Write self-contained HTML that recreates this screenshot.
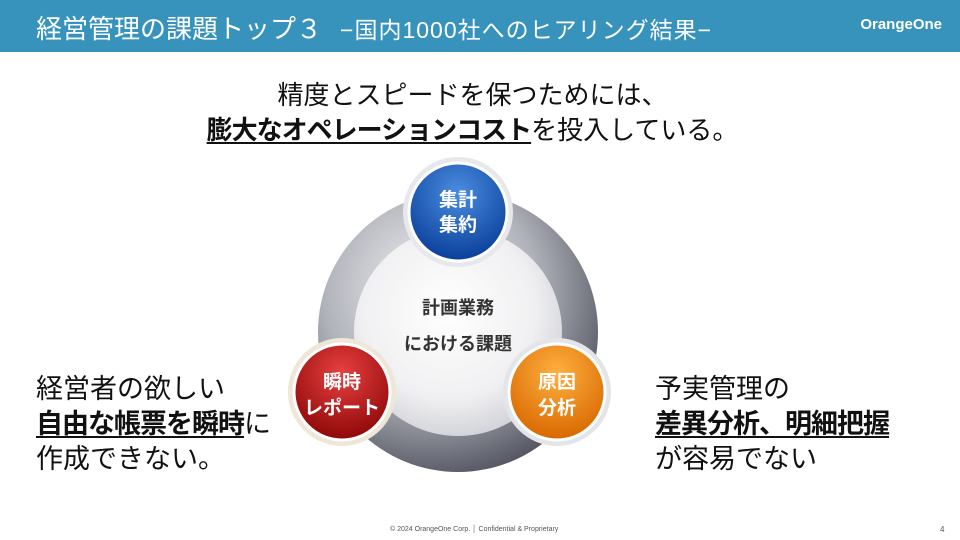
<!DOCTYPE html>
<html><head><meta charset="utf-8"><style>
body{margin:0;width:960px;height:540px;overflow:hidden;background:#fff;font-family:"Liberation Sans","Noto Sans CJK JP",sans-serif;position:relative}
.hd{position:absolute;left:0;top:0;width:960px;height:52px;background:#3793bb;color:#fff}
.t{position:absolute;left:36px;top:9px;font-size:26px;white-space:nowrap}
.t span{font-size:23px;margin-left:18px;letter-spacing:1px}
.logo{position:absolute;right:18px;top:16px;font-size:15px;font-weight:bold}
.txt{position:absolute;font-size:27px;line-height:35px;color:#111;white-space:nowrap}
u{font-weight:bold;text-decoration-thickness:2px;text-underline-offset:3px;letter-spacing:-1px}
.ft{position:absolute;top:526px;left:390px;font-size:7px;color:#555}
.pn{position:absolute;top:525px;left:940px;font-size:8px;color:#555}
</style></head><body>
<div class="hd"><div class="t">経営管理の課題トップ３<span>−国内1000社へのヒアリング結果−</span></div><div class="logo">OrangeOne</div></div>
<div class="txt" style="left:0;width:945px;text-align:center;top:78px;font-size:26px;line-height:35px">精度とスピードを保つためには、<br><u>膨大なオペレーションコスト</u>を投入している。</div>
<svg style="position:absolute;left:0;top:0" width="960" height="540">
<defs>
<radialGradient id="ring" cx="0.4" cy="0.35" r="0.7"><stop offset="0" stop-color="#f4f4f6"/><stop offset="0.55" stop-color="#b0b2ba"/><stop offset="1" stop-color="#4e515c"/></radialGradient>
<radialGradient id="inner" cx="0.45" cy="0.4" r="0.6"><stop offset="0" stop-color="#ffffff"/><stop offset="0.7" stop-color="#f0f0f2"/><stop offset="1" stop-color="#d4d5da"/></radialGradient>
<radialGradient id="blue" cx="0.5" cy="0.3" r="0.7"><stop offset="0" stop-color="#4a8de0"/><stop offset="1" stop-color="#0a3f9a"/></radialGradient>
<radialGradient id="red" cx="0.5" cy="0.3" r="0.7"><stop offset="0" stop-color="#e84040"/><stop offset="1" stop-color="#8e0808"/></radialGradient>
<radialGradient id="org" cx="0.5" cy="0.3" r="0.7"><stop offset="0" stop-color="#ffb040"/><stop offset="1" stop-color="#d86800"/></radialGradient>
</defs>
<circle cx="458" cy="332" r="140" fill="url(#ring)"/>
<circle cx="458" cy="332" r="104" fill="url(#inner)"/>
<g font-weight="bold" text-anchor="middle">
<text x="458" y="314" font-size="18" fill="#333">計画業務</text>
<text x="458" y="350" font-size="18" fill="#333">における課題</text>
<circle cx="458" cy="212" r="55" fill="#e6e8ec"/><circle cx="458" cy="212" r="49" fill="url(#blue)" stroke="#fff" stroke-width="3"/>
<text x="458" y="206" font-size="19" fill="#fff">集計</text><text x="458" y="231" font-size="19" fill="#fff">集約</text>
<circle cx="342" cy="392" r="54" fill="#eee7d8"/><circle cx="342" cy="392" r="48" fill="url(#red)" stroke="#fff" stroke-width="3"/>
<text x="342" y="388" font-size="19" fill="#fff">瞬時</text><text x="342" y="414" font-size="19" fill="#fff">レポート</text>
<circle cx="557" cy="392" r="54" fill="#e3e5e8"/><circle cx="557" cy="392" r="48" fill="url(#org)" stroke="#fff" stroke-width="3"/>
<text x="557" y="388" font-size="19" fill="#fff">原因</text><text x="557" y="414" font-size="19" fill="#fff">分析</text>
</g>
</svg>
<div class="txt" style="left:36px;top:372px">経営者の欲しい<br><u>自由な帳票を瞬時</u>に<br>作成できない。</div>
<div class="txt" style="left:655px;top:372px">予実管理の<br><u>差異分析、明細把握</u><br>が容易でない</div>
<div class="ft">© 2024 OrangeOne Corp. │ Confidential &amp; Proprietary</div>
<div class="pn">4</div>
</body></html>
